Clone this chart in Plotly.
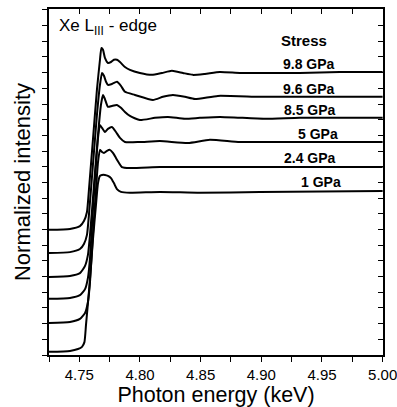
import plotly.graph_objects as go

# Photon energy (keV) and normalized intensity (vertically offset) for each stress
labels = ["9.8 GPa", "9.6 GPa", "8.5 GPa", "5 GPa", "2.4 GPa", "1 GPa"]

e_98 = [4.725, 4.7423, 4.7505, 4.7538, 4.7563, 4.7579, 4.7612, 4.7645, 4.7670, 4.7682, 4.7695,
        4.7711, 4.7736, 4.7761, 4.7785, 4.7810, 4.7835, 4.7876, 4.7917, 4.7999, 4.8098, 4.8181,
        4.8263, 4.8354, 4.8436, 4.8535, 4.8659, 4.8823, 4.9029, 4.9317, 4.9647, 5.0]
i_98 = [3.99, 4.02, 4.11, 4.27, 4.56, 5.26, 6.86, 8.45, 9.41, 9.79, 9.73,
        9.47, 9.31, 9.34, 9.41, 9.41, 9.34, 9.18, 9.09, 8.99, 8.93, 8.99,
        9.06, 8.99, 8.93, 8.96, 9.02, 8.99, 8.99, 8.99, 9.02, 9.02]

e_96 = [4.725, 4.7423, 4.7505, 4.7538, 4.7563, 4.7579, 4.7612, 4.7645, 4.7670, 4.7687, 4.7703,
        4.7720, 4.7736, 4.7769, 4.7810, 4.7843, 4.7876, 4.7958, 4.8107, 4.8189, 4.8271, 4.8370,
        4.8453, 4.8642, 4.8988, 4.9317, 5.0]
i_96 = [3.25, 3.28, 3.38, 3.54, 3.83, 4.46, 6.06, 7.65, 8.61, 8.99, 8.90,
        8.71, 8.61, 8.64, 8.71, 8.58, 8.39, 8.29, 8.13, 8.23, 8.29, 8.23,
        8.16, 8.26, 8.23, 8.23, 8.23]

e_85 = [4.725, 4.7423, 4.7505, 4.7547, 4.7571, 4.7588, 4.7621, 4.7654, 4.7678, 4.7695, 4.7711,
        4.7736, 4.7769, 4.7810, 4.7843, 4.7876, 4.7917, 4.7999, 4.8123, 4.8230, 4.8370, 4.8494,
        4.8659, 4.9029, 4.9317, 5.0]
i_85 = [2.49, 2.52, 2.61, 2.84, 3.19, 3.83, 5.42, 7.02, 7.97, 8.29, 8.16,
        7.91, 7.94, 7.97, 7.88, 7.75, 7.62, 7.49, 7.56, 7.59, 7.53, 7.56,
        7.59, 7.53, 7.56, 7.56]

e_5 = [4.725, 4.7423, 4.7505, 4.7547, 4.7571, 4.7588, 4.7612, 4.7637, 4.7654, 4.7670, 4.7687,
       4.7711, 4.7736, 4.7769, 4.7802, 4.7835, 4.7876, 4.7999, 4.8164, 4.8395, 4.8576, 4.8823,
       4.9317, 5.0]
i_5 = [1.79, 1.82, 1.91, 2.10, 2.46, 3.09, 4.62, 6.06, 6.92, 7.33, 7.24,
       7.11, 7.21, 7.27, 7.11, 6.92, 6.79, 6.79, 6.82, 6.76, 6.86, 6.79,
       6.79, 6.79]

e_24 = [4.725, 4.7423, 4.7505, 4.7547, 4.7571, 4.7588, 4.7612, 4.7637, 4.7654, 4.7670, 4.7687,
        4.7703, 4.7728, 4.7752, 4.7777, 4.7802, 4.7827, 4.7851, 4.7917, 4.8164, 4.8494, 4.8988, 5.0]
i_24 = [1.02, 1.05, 1.15, 1.34, 1.69, 2.33, 3.83, 5.26, 6.15, 6.54, 6.47,
        6.44, 6.51, 6.54, 6.44, 6.28, 6.12, 5.99, 5.96, 5.99, 5.99, 5.99, 5.99]

e_1 = [4.725, 4.7423, 4.7489, 4.7522, 4.7542, 4.7555, 4.7584, 4.7612, 4.7637, 4.7654, 4.7670,
       4.7687, 4.7711, 4.7736, 4.7761, 4.7785, 4.7810, 4.7843, 4.7917, 4.8164, 4.8494, 4.8988, 5.0]
i_1 = [0.10, 0.13, 0.19, 0.26, 0.41, 0.96, 2.23, 3.67, 4.78, 5.48, 5.71,
       5.74, 5.74, 5.71, 5.64, 5.48, 5.29, 5.20, 5.17, 5.20, 5.17, 5.20, 5.23]

energies = [e_98, e_96, e_85, e_5, e_24, e_1]
intensities = [i_98, i_96, i_85, i_5, i_24, i_1]

x_ticks = [4.75, 4.80, 4.85, 4.90, 4.95, 5.00]
x_tick_text = ["4.75", "4.80", "4.85", "4.90", "4.95", "5.00"]

fig = go.Figure()
for e, i, lab in zip(energies, intensities, labels):
    fig.add_trace(go.Scatter(x=e, y=i, mode="lines", name=lab,
                             line=dict(color="black", width=2, shape="spline", smoothing=0.5),
                             showlegend=False, hoverinfo="skip"))
fig.add_trace(go.Scatter(x=[], y=[], xaxis="x2", yaxis="y2", showlegend=False))

XR = [4.725, 5.0003]
YR = [0, 11.03]
font = "Liberation Sans, Arial, Helvetica, sans-serif"

fig.update_layout(
    width=397, height=407,
    margin=dict(l=49, r=14, t=9, b=52),
    paper_bgcolor="white", plot_bgcolor="white",
    font=dict(family=font, color="black"),
    xaxis=dict(range=XR, tickvals=x_ticks, ticktext=x_tick_text, automargin=False,
               ticklabeloverflow="allow",
               ticks="outside", ticklen=5, tickwidth=1.2, tickcolor="black",
               minor=dict(dtick=0.025, tick0=4.725, ticks="outside", ticklen=5, tickwidth=1.2, tickcolor="black"),
               showline=True, linecolor="black", linewidth=1.5, showgrid=False, zeroline=False,
               tickfont=dict(size=15, family=font),
               title=dict(text="Photon energy (keV)", font=dict(size=21.5, family=font), standoff=4)),
    yaxis=dict(range=YR, dtick=0.5, tick0=0, ticks="outside", ticklen=5, tickwidth=1.2, tickcolor="black",
               showticklabels=False, showline=True, linecolor="black", linewidth=1.5, automargin=False,
               showgrid=False, zeroline=False,
               title=dict(text="Normalized intensity", font=dict(size=22, family=font), standoff=6)),
    xaxis2=dict(range=XR, overlaying="x", side="top", anchor="y2", dtick=0.025, tick0=4.725,
                ticks="inside", ticklen=5, tickwidth=1.2, tickcolor="black", showticklabels=False,
                showline=True, linecolor="black", linewidth=1.5, showgrid=False, zeroline=False),
    yaxis2=dict(range=YR, overlaying="y", side="right", anchor="x2", dtick=0.5, tick0=0,
                ticks="inside", ticklen=5, tickwidth=1.2, tickcolor="black", showticklabels=False,
                showline=True, linecolor="black", linewidth=1.5, showgrid=False, zeroline=False),
)

def px(xp):
    return (xp - 49) / 334.0

def py(yp):
    return (355 - yp) / 346.0

fig.add_annotation(xref="paper", yref="paper", x=px(57), y=py(27), xanchor="left", yanchor="middle",
                   text="Xe L<sub>III</sub> - edge", showarrow=False, font=dict(size=17, family=font))
fig.add_annotation(xref="paper", yref="paper", x=px(304), y=py(41), xanchor="center", yanchor="middle",
                   text="<b>Stress</b>", showarrow=False, font=dict(size=15, family=font))
label_right = [337, 337, 338, 340, 338, 343]
label_y = [64, 89, 110, 134, 158, 182]
for lab, xr, yc in zip(labels, label_right, label_y):
    fig.add_annotation(xref="paper", yref="paper", x=px(xr), y=py(yc), xanchor="right", yanchor="middle",
                       text="<b>" + lab + "</b>", showarrow=False, font=dict(size=14, family=font))

fig.write_html("out.html", config={"displayModeBar": False},
               post_script="document.body.style.margin='0';document.body.style.overflow='hidden';")
